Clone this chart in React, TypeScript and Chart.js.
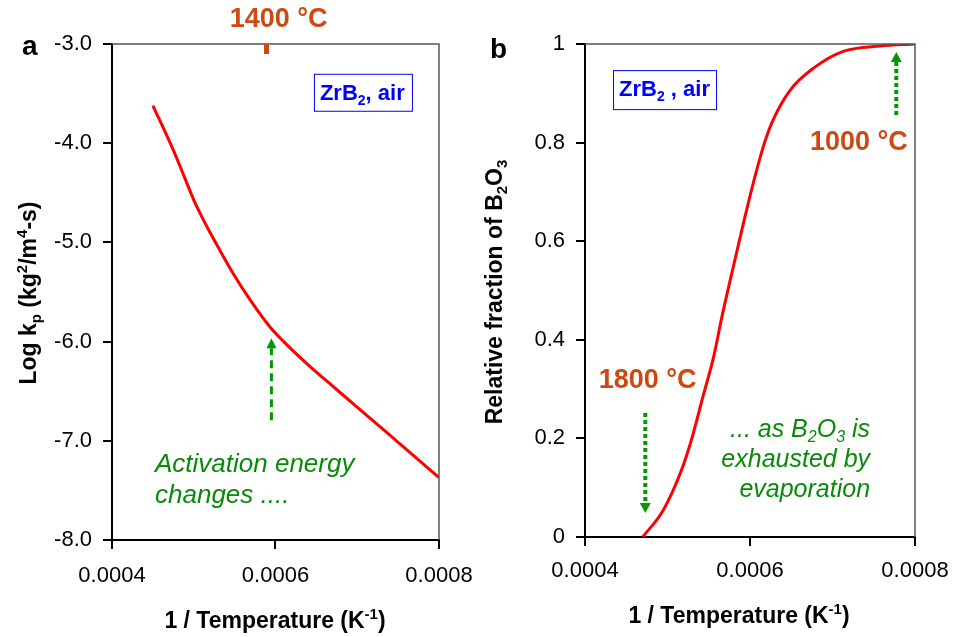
import React, { useEffect, useRef } from 'react';
import { Chart, registerables } from 'chart.js';

Chart.register(...registerables);

const FONT = "'Liberation Sans', Arial, Helvetica, sans-serif";
const ORANGE = '#CC4A12';
const GREEN = '#0A8A0A';
const ARROW_GREEN = '#009900';
const BLUE = '#0000FF';

// ---- Panel a: parabolic rate constant vs 1/T ----
const kpInvT = [0.00045, 0.000475, 0.000489, 0.0005015, 0.000516, 0.000532, 0.000548, 0.000569, 0.000593, 0.00061, 0.000642, 0.000671, 0.000703, 0.000736, 0.000765, 0.0008];
const kpLog = [-3.62, -4.07, -4.35, -4.60, -4.84, -5.08, -5.31, -5.58, -5.85, -6.0, -6.25, -6.456, -6.683, -6.916, -7.122, -7.37];
const kpYTicks = [-8, -7, -6, -5, -4, -3];

// ---- Panel b: relative fraction of B2O3 vs 1/T ----
const fracInvT = [0.00047, 0.000495, 0.000517, 0.000529, 0.000543, 0.000556, 0.000566, 0.000576, 0.000592, 0.000606, 0.000618, 0.000628, 0.000649, 0.000677, 0.000713, 0.000758, 0.0008];
const fracB2O3 = [0, 0.055, 0.136, 0.197, 0.285, 0.366, 0.447, 0.521, 0.636, 0.731, 0.802, 0.846, 0.907, 0.951, 0.985, 0.996, 1.0];

const xTickValues = [0.0004, 0.0006, 0.0008];

type Seg = { t: string; s?: 'sub' | 'sup' };

function drawRich(
  ctx: CanvasRenderingContext2D,
  segs: Seg[],
  x: number,
  y: number,
  o: { size: number; weight?: string; style?: string; color: string; align?: 'left' | 'center' | 'right' }
) {
  const weight = o.weight || 'normal';
  const style = o.style || 'normal';
  const fontFor = (s?: string) => `${style} ${weight} ${s ? Math.round(o.size * 0.65) : o.size}px ${FONT}`;
  let w = 0;
  for (const sg of segs) {
    ctx.font = fontFor(sg.s);
    w += ctx.measureText(sg.t).width;
  }
  let cx = o.align === 'center' ? x - w / 2 : o.align === 'right' ? x - w : x;
  ctx.fillStyle = o.color;
  ctx.textAlign = 'left';
  ctx.textBaseline = 'alphabetic';
  for (const sg of segs) {
    ctx.font = fontFor(sg.s);
    const off = sg.s === 'sub' ? o.size * 0.22 : sg.s === 'sup' ? -o.size * 0.4 : 0;
    ctx.fillText(sg.t, cx, y + off);
    cx += ctx.measureText(sg.t).width;
  }
}

function vArrow(
  ctx: CanvasRenderingContext2D,
  x: number,
  yTail: number,
  yTip: number,
  color: string,
  width: number,
  dash: number[],
  headW: number,
  headL: number
) {
  const dir = yTip < yTail ? -1 : 1;
  ctx.save();
  ctx.strokeStyle = color;
  ctx.fillStyle = color;
  ctx.lineWidth = width;
  ctx.setLineDash(dash);
  ctx.beginPath();
  ctx.moveTo(x, yTail);
  ctx.lineTo(x, yTip - dir * headL);
  ctx.stroke();
  ctx.setLineDash([]);
  ctx.beginPath();
  ctx.moveTo(x, yTip);
  ctx.lineTo(x - headW / 2, yTip - dir * headL);
  ctx.lineTo(x + headW / 2, yTip - dir * headL);
  ctx.closePath();
  ctx.fill();
  ctx.restore();
}

type DrawFn = (ctx: CanvasRenderingContext2D, X: (v: number) => number, Y: (v: number) => number, area: any) => void;

function makeOverlay(draw: DrawFn) {
  return {
    id: 'overlay',
    afterDraw(chart: any) {
      const { ctx, chartArea, scales } = chart;
      const X = (v: number) => scales.x.getPixelForValue(v);
      const Y = (v: number) => scales.y.getPixelForValue(v);
      ctx.save();
      // top and right frame lines
      ctx.strokeStyle = '#555';
      ctx.lineWidth = 1.5;
      ctx.beginPath();
      ctx.moveTo(chartArea.left, chartArea.top);
      ctx.lineTo(chartArea.right, chartArea.top);
      ctx.lineTo(chartArea.right, chartArea.bottom);
      ctx.stroke();
      draw(ctx, X, Y, chartArea);
      ctx.restore();
    },
  };
}

function baseOptions(opts: {
  yMin: number;
  yMax: number;
  yStep: number;
  yFmt: (v: number) => string;
  yWidth: number;
  xHeight: number;
  padRight: number;
  padTop: number;
  xPad: number;
}) {
  return {
    responsive: false,
    animation: false as const,
    layout: { padding: { left: 0, right: opts.padRight, top: opts.padTop, bottom: 0 } },
    plugins: { legend: { display: false }, tooltip: { enabled: false } },
    scales: {
      x: {
        type: 'linear' as const,
        min: 0.0004,
        max: 0.0008,
        afterBuildTicks: (s: any) => {
          s.ticks = xTickValues.map((v) => ({ value: v }));
        },
        afterFit: (s: any) => {
          s.height = opts.xHeight;
          s.paddingLeft = 0;
          s.paddingRight = 0;
        },
        ticks: {
          callback: (v: any) => Number(v).toFixed(4),
          font: { family: FONT, size: 22 },
          color: '#000',
          padding: opts.xPad,
          maxRotation: 0,
          autoSkip: false,
        },
        grid: { display: true, drawOnChartArea: false, drawTicks: true, tickLength: 9, color: '#000', lineWidth: 2 },
        border: { display: true, color: '#000', width: 2 },
      },
      y: {
        type: 'linear' as const,
        min: opts.yMin,
        max: opts.yMax,
        ticks: {
          stepSize: opts.yStep,
          callback: (v: any) => opts.yFmt(Number(v)),
          font: { family: FONT, size: 22 },
          color: '#000',
          padding: 11,
        },
        afterFit: (s: any) => {
          s.width = opts.yWidth;
          s.paddingTop = 0;
          s.paddingBottom = 0;
        },
        grid: { display: true, drawOnChartArea: false, drawTicks: true, tickLength: 9, color: '#000', lineWidth: 2 },
        border: { display: true, color: '#000', width: 2 },
      },
    },
  };
}

const overlayA = makeOverlay((ctx, X, Y) => {
  // panel label
  drawRich(ctx, [{ t: 'a' }], 22, 55, { size: 28, weight: 'bold', color: '#000' });
  // x-axis title
  drawRich(ctx, [{ t: '1 / Temperature (K' }, { t: '-1', s: 'sup' }, { t: ')' }], 275, 628, {
    size: 23, weight: 'bold', color: '#000', align: 'center',
  });
  // y-axis title (rotated)
  ctx.save();
  ctx.translate(36, 293);
  ctx.rotate(-Math.PI / 2);
  drawRich(ctx, [{ t: 'Log k' }, { t: 'p', s: 'sub' }, { t: ' (kg' }, { t: '2', s: 'sup' }, { t: '/m' }, { t: '4', s: 'sup' }, { t: '-s)' }], 0, 0, {
    size: 23, weight: 'bold', color: '#000', align: 'center',
  });
  ctx.restore();
  // 1400 °C marker and label
  ctx.fillStyle = ORANGE;
  ctx.fillRect(X(0.000589) - 2.5, Y(-3.0), 5, 10);
  drawRich(ctx, [{ t: '1400 °C' }], X(0.000544), Y(-2.833), { size: 27, weight: 'bold', color: ORANGE });
  // ZrB2, air box
  const bx = X(0.000647), by = Y(-3.30);
  ctx.fillStyle = '#fff';
  ctx.fillRect(bx, by, 98, 37);
  ctx.strokeStyle = BLUE;
  ctx.lineWidth = 1;
  ctx.strokeRect(bx + 0.5, by + 0.5, 98, 37);
  drawRich(ctx, [{ t: 'ZrB' }, { t: '2', s: 'sub' }, { t: ', air' }], bx + 6, by + 26, { size: 22, weight: 'bold', color: BLUE });
  // dashed green arrow
  vArrow(ctx, X(0.000595), Y(-6.793), Y(-5.965), ARROW_GREEN, 3, [8, 5], 10, 10);
  // italic text
  drawRich(ctx, [{ t: 'Activation energy' }], X(0.0004526), Y(-7.318), { size: 26, style: 'italic', color: GREEN });
  drawRich(ctx, [{ t: 'changes ....' }], X(0.0004526), Y(-7.631), { size: 26, style: 'italic', color: GREEN });
});

const overlayB = makeOverlay((ctx, X, Y) => {
  drawRich(ctx, [{ t: 'b' }], 13, 58, { size: 28, weight: 'bold', color: '#000' });
  drawRich(ctx, [{ t: '1 / Temperature (K' }, { t: '-1', s: 'sup' }, { t: ')' }], 262, 623, {
    size: 23, weight: 'bold', color: '#000', align: 'center',
  });
  ctx.save();
  ctx.translate(25, 292);
  ctx.rotate(-Math.PI / 2);
  drawRich(ctx, [{ t: 'Relative fraction of B' }, { t: '2', s: 'sub' }, { t: 'O' }, { t: '3', s: 'sub' }], 0, 0, {
    size: 23, weight: 'bold', color: '#000', align: 'center',
  });
  ctx.restore();
  // ZrB2 , air box
  const bx = X(0.000434), by = Y(0.947);
  ctx.fillStyle = '#fff';
  ctx.fillRect(bx, by, 103, 39);
  ctx.strokeStyle = BLUE;
  ctx.lineWidth = 1;
  ctx.strokeRect(bx + 0.5, by + 0.5, 103, 39);
  drawRich(ctx, [{ t: 'ZrB' }, { t: '2', s: 'sub' }, { t: ' , air' }], bx + 6, by + 26, { size: 22, weight: 'bold', color: BLUE });
  // 1000 °C arrow + label
  vArrow(ctx, X(0.0007773), Y(0.856), Y(0.984), ARROW_GREEN, 4, [4, 3], 11, 10);
  drawRich(ctx, [{ t: '1000 °C' }], X(0.0006727), Y(0.785), { size: 27, weight: 'bold', color: ORANGE });
  // 1800 °C label + arrow
  drawRich(ctx, [{ t: '1800 °C' }], X(0.0004166), Y(0.302), { size: 27, weight: 'bold', color: ORANGE });
  vArrow(ctx, X(0.0004731), Y(0.2515), Y(0.0487), ARROW_GREEN, 4, [4, 3], 11, 10);
  // italic text, right aligned
  const rx = X(0.0007455);
  drawRich(ctx, [{ t: '... as B' }, { t: '2', s: 'sub' }, { t: 'O' }, { t: '3', s: 'sub' }, { t: ' is' }], rx, Y(0.203), {
    size: 25, style: 'italic', color: GREEN, align: 'right',
  });
  drawRich(ctx, [{ t: 'exhausted by' }], rx, Y(0.142), { size: 25, style: 'italic', color: GREEN, align: 'right' });
  drawRich(ctx, [{ t: 'evaporation' }], rx, Y(0.081), { size: 25, style: 'italic', color: GREEN, align: 'right' });
});

function App() {
  const refA = useRef<HTMLCanvasElement>(null);
  const refB = useRef<HTMLCanvasElement>(null);

  useEffect(() => {
    if (!refA.current || !refB.current) return;
    const chartA = new Chart(refA.current, {
      type: 'line',
      data: {
        datasets: [
          {
            data: kpInvT.map((x, i) => ({ x, y: kpLog[i] })),
            borderColor: '#FF0000',
            borderWidth: 3,
            pointRadius: 0,
            fill: false,
            cubicInterpolationMode: 'monotone',
          },
        ],
      },
      options: baseOptions({
        yMin: Math.min(...kpYTicks),
        yMax: Math.max(...kpYTicks),
        yStep: 1,
        yFmt: (v) => v.toFixed(1),
        yWidth: 112,
        xHeight: 97,
        padRight: 38,
        padTop: 44,
        xPad: 14,
      }) as any,
      plugins: [overlayA as any],
    });
    const chartB = new Chart(refB.current, {
      type: 'line',
      data: {
        datasets: [
          {
            data: fracInvT.map((x, i) => ({ x, y: fracB2O3[i] })),
            borderColor: '#FF0000',
            borderWidth: 3,
            pointRadius: 0,
            fill: false,
            cubicInterpolationMode: 'monotone',
          },
        ],
      },
      options: baseOptions({
        yMin: 0,
        yMax: 1,
        yStep: 0.2,
        yFmt: (v) => String(+v.toFixed(1)),
        yWidth: 108,
        xHeight: 100,
        padRight: 39,
        padTop: 44,
        xPad: 12,
      }) as any,
      plugins: [overlayB as any],
    });
    return () => {
      chartA.destroy();
      chartB.destroy();
    };
  }, []);

  return (
    <div style={{ position: 'fixed', left: 0, top: 0, width: 954, height: 637, background: '#fff' }}>
      <canvas ref={refA} width={477} height={637} style={{ position: 'absolute', left: 0, top: 0, width: 477, height: 637 }} />
      <canvas ref={refB} width={477} height={637} style={{ position: 'absolute', left: 477, top: 0, width: 477, height: 637 }} />
    </div>
  );
}

export default App;
